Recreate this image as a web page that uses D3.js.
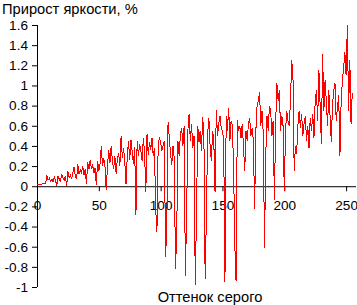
<!DOCTYPE html>
<html>
<head>
<meta charset="utf-8">
<script src="https://cdn.jsdelivr.net/npm/d3@7"></script>
<style>
	body { margin: 0; background: #fff; }
	svg text { font-family: "Liberation Sans", Arial, sans-serif; font-size: 14.7px; fill: #000; }
	svg .tick text { font-size: 13.6px; }
</style>
</head>
<body>
<svg width="357" height="305"></svg>
<script>
// brightness increase per grey level (0..255)
var gain = [
	0.02, 0.02, 0.02, 0.02, 0.02, 0.03, 0.03, 0.03,
	0.11, 0.06, 0.08, 0.05, 0.07, 0.04, 0.09, 0.06,
	0.00, 0.10, 0.07, 0.05, 0.12, 0.08, 0.06, 0.10,
	0.00, 0.15, 0.09, 0.11, 0.08, 0.13, 0.19, 0.10,
	0.07, 0.22, 0.12, 0.16, 0.13, 0.20, 0.11, 0.17,
	0.02, 0.24, 0.17, 0.26, 0.18, 0.21, 0.13, 0.18,
	0.01, 0.25, 0.15, 0.22, 0.40, 0.20, 0.28, 0.19,
	-0.04, 0.20, 0.36, 0.23, 0.40, 0.25, 0.17, 0.30,
	0.12, 0.27, 0.33, 0.20, 0.50, 0.28, 0.38, 0.24,
	0.02, 0.30, 0.45, 0.26, 0.46, 0.34, 0.22, 0.39,
	-0.29, 0.45, 0.30, 0.42, 0.35, 0.25, 0.48, 0.33,
	-0.06, 0.52, 0.31, 0.44, 0.36, 0.48, 0.30, 0.38,
	-0.23, -0.45, 0.40, 0.49, 0.43, 0.35, 0.40, 0.45,
	-0.70, -0.39, 0.64, 0.48, 0.32, 0.21, 0.40, 0.28,
	-0.82, -0.47, 0.45, 0.30, 0.52, 0.58, 0.40, 0.60,
	-0.89, -0.29, 0.55, 0.72, 0.45, 0.62, 0.38, 0.50,
	-0.98, -0.27, 0.60, 0.44, 0.55, 0.35, 0.69, 0.48,
	-0.92, -0.30, 0.52, 0.68, 0.40, 0.25, 0.55, 0.45,
	-0.06, 0.76, 0.50, 0.62, 0.70, 0.58, 0.55, 0.45,
	-0.95, 0.70, 0.55, 0.78, 0.45, 0.65, 0.60, 0.19,
	-0.59, -0.94, 0.66, 0.55, 0.60, 0.48, 0.62, 0.40,
	0.15, 0.55, 0.45, 0.62, 0.68, 0.50, 0.58, 0.45,
	-0.23, 0.55, 0.80, 0.85, 0.93, 0.60, 0.75, 0.52,
	-0.61, 0.30, 0.70, 0.55, 0.80, 0.75, 0.50, 0.65,
	-0.14, 0.60, 1.02, 0.85, 0.95, 0.55, 0.70, 0.60,
	-0.05, 0.55, 0.75, 0.65, 0.60, 0.85, 1.25, 1.10,
	0.15, 0.40, 0.32, 0.60, 0.75, 0.58, 0.72, 0.50,
	0.62, 0.70, 0.45, 0.60, 0.38, 0.68, 0.55, 0.72,
	0.48, 0.85, 0.95, 0.65, 1.15, 0.80, 0.42, 1.31,
	0.75, 1.05, 0.85, 0.60, 0.95, 0.70, 0.44, 0.80,
	0.95, 1.02, 0.65, 0.78, 0.90, 0.30, 0.85, 1.05,
	1.18, 1.33, 1.10, 1.60, 0.75, 1.25, 0.62, 0.93
];
var xTicks = [0, 50, 100, 150, 200, 250];
var yTicks = [-1, -0.8, -0.6, -0.4, -0.2, 0, 0.2, 0.4, 0.6, 0.8, 1, 1.2, 1.4, 1.6];
var title = "Прирост яркости, %";
var xTitle = "Оттенок серого";

var svg = d3.select("svg");
var x = d3.scaleLinear().domain([0, 258]).range([37, 356]);
var y = d3.scaleLinear().domain([-1, 1.6]).range([287, 25]);

// y axis on the left
svg.append("g")
	.attr("transform", "translate(" + x(0) + ",0)")
	.call(d3.axisLeft(y).tickValues(yTicks).tickSize(5).tickPadding(4)
		.tickFormat(function(d) { return String(+d.toFixed(1)); }))
	.call(function(g) {
		g.select(".domain").attr("d", "M0.5," + y(1.6) + "V" + y(-1));
		g.selectAll("text").attr("font-family", null).attr("font-size", null);
	});

// x axis through zero
svg.append("g")
	.attr("transform", "translate(0," + y(0) + ")")
	.call(d3.axisBottom(x).tickValues(xTicks).tickSize(5).tickPadding(9))
	.call(function(g) {
		g.select(".domain").attr("d", "M" + x(0) + ",0.5H" + x(258));
		g.selectAll("text").attr("font-family", null).attr("font-size", null);
	});

// data line, drawn without smoothing like the original
var line = d3.line()
	.x(function(d, i) { return x(i); })
	.y(function(d) { return y(d); });

svg.append("path")
	.datum(gain)
	.attr("fill", "none")
	.attr("stroke", "#ff0000")
	.attr("stroke-width", 1)
	.attr("shape-rendering", "crispEdges")
	.attr("d", line);

svg.append("text").attr("x", 2).attr("y", 14).text(title);
svg.append("text").attr("x", 210).attr("y", 302).attr("text-anchor", "middle").text(xTitle);
</script>
</body>
</html>
